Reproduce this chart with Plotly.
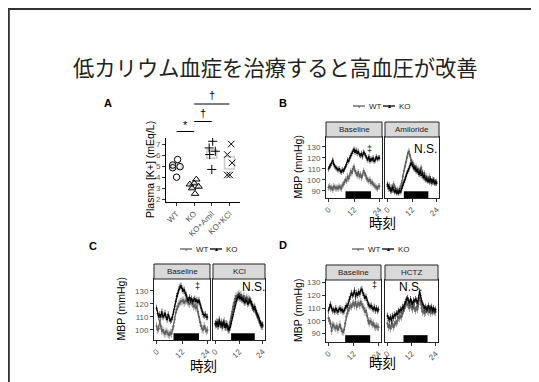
import plotly.graph_objects as go

W, H = 539, 382
OFF = 8  # page body margin offset

# ---------------- DATA ----------------
TITLE = "低カリウム血症を治療すると高血圧が改善"

A_GROUPS = ["WT", "KO", "KO+Amil", "KO+KCl"]
A_WT = [5.6, 5.1, 4.85, 4.95, 4.0]
A_KO = [3.35, 3.8, 3.0, 3.15, 2.5, 3.45]
A_AMIL = [6.65, 7.25, 6.35, 6.05, 4.7]
A_KCL = [7.0, 6.05, 5.3, 4.2, 4.2]
A_WT_JIT = [0.06, -0.22, -0.22, 0.2, 0.0]
A_KO_JIT = [-0.25, 0.12, -0.12, 0.25, 0.05, 0.0]
A_AMIL_JIT = [-0.15, 0.05, 0.2, -0.12, 0.0]
A_KCL_JIT = [0.1, -0.12, 0.15, -0.12, 0.02]
A_MEAN = [4.98, 3.2, 6.1, 5.3]
A_SEM = [0.25, 0.2, 0.38, 0.55]

HOURS = [0, 0.5, 1, 1.5, 2, 2.5, 3, 3.5, 4, 4.5, 5, 5.5, 6, 6.5, 7, 7.5,
         8, 8.5, 9, 9.5, 10, 10.5, 11, 11.5, 12, 12.5, 13, 13.5, 14, 14.5,
         15, 15.5, 16, 16.5, 17, 17.5, 18, 18.5, 19, 19.5, 20, 20.5, 21,
         21.5, 22, 22.5, 23, 23.5, 24]
DARK_START, DARK_END = 8, 20
X_TICKS = [0, 12, 24]

B_BASE_KO = [110, 112, 113, 115, 118, 114, 112, 111,
             110, 109, 110, 108, 107, 109, 108, 110,
             112, 114, 118, 117, 120, 122, 124, 126,
             128, 125, 127, 124, 126, 123, 122, 124,
             121, 125, 124, 122, 120, 118, 121, 117,
             119, 118, 120, 117, 118, 121, 119, 120, 120]
B_BASE_WT = [93, 94, 92, 93, 91, 94, 93, 92,
             93, 92, 94, 93, 92, 95, 96, 98,
             100, 99, 103, 101, 104, 108, 106, 110,
             112, 108, 106, 104, 107, 103, 105, 102,
             104, 108, 106, 104, 101, 100, 99, 100,
             97, 98, 96, 95, 94, 93, 92, 94, 94]
B_AMIL_KO = [96, 94, 92, 91, 90, 93, 91, 89,
             90, 88, 89, 88, 90, 89, 92, 95,
             98, 100, 103, 106, 108, 110, 113, 115,
             114, 112, 110, 111, 108, 109, 107, 105,
             108, 104, 106, 102, 104, 100, 101, 99,
             100, 98, 101, 99, 98, 100, 97, 98, 97]
B_AMIL_WT = [94, 92, 95, 90, 93, 91, 96, 93,
             92, 90, 91, 89, 92, 94, 97, 103,
             108, 112, 116, 120, 124, 126, 122, 118,
             116, 115, 113, 110, 112, 108, 110, 106,
             109, 111, 107, 104, 106, 102, 103, 101,
             100, 103, 99, 97, 100, 98, 99, 97, 98]

C_BASE_KO = [117, 113, 110, 112, 110, 114, 110, 111,
             113, 110, 108, 112, 109, 107, 108, 110,
             114, 118, 122, 126, 128, 131, 133, 134,
             132, 130, 131, 128, 127, 124, 123, 125,
             123, 124, 122, 123, 124, 122, 123, 121,
             123, 120, 117, 114, 112, 111, 112, 110, 110]
C_BASE_WT = [103, 100, 101, 107, 103, 99, 100, 98,
             97, 99, 98, 97, 96, 98, 97, 100,
             103, 108, 113, 116, 118, 120, 121, 122,
             122, 123, 121, 122, 123, 122, 121, 120,
             122, 121, 120, 118, 119, 117, 118, 114,
             110, 106, 103, 101, 100, 103, 101, 99, 100]
C_KCL_KO = [105, 104, 106, 103, 107, 104, 105, 103,
            106, 104, 102, 105, 103, 101, 100, 102,
            105, 109, 112, 116, 119, 122, 124, 125,
            126, 124, 125, 123, 124, 122, 121, 123,
            122, 120, 121, 123, 122, 120, 117, 116,
            118, 115, 113, 111, 110, 107, 105, 104, 104]
C_KCL_WT = [104, 106, 103, 105, 108, 104, 106, 102,
            104, 107, 103, 102, 104, 100, 103, 106,
            110, 114, 118, 121, 124, 126, 125, 127,
            128, 126, 127, 125, 124, 126, 123, 124,
            125, 122, 124, 123, 121, 119, 118, 117,
            116, 114, 112, 110, 108, 106, 104, 103, 103]

D_BASE_KO = [108, 111, 113, 110, 108, 109, 107, 110,
             108, 107, 109, 110, 108, 109, 107, 108,
             110, 112, 111, 114, 117, 119, 122, 120,
             121, 124, 119, 122, 120, 123, 121, 124,
             125, 122, 120, 118, 119, 116, 113, 112,
             111, 112, 110, 109, 111, 108, 110, 108, 109]
D_BASE_WT = [102, 100, 98, 92, 97, 96, 95, 94,
             96, 93, 95, 97, 94, 92, 91, 93,
             98, 103, 106, 108, 110, 112, 111, 113,
             114, 112, 115, 111, 113, 114, 112, 115,
             113, 111, 110, 107, 108, 104, 100, 98,
             100, 99, 97, 98, 96, 95, 96, 95, 95]
D_HCTZ_KO = [104, 102, 101, 103, 100, 104, 102, 105,
             104, 106, 105, 108, 107, 109, 108, 111,
             110, 113, 115, 117, 118, 116, 114, 117,
             115, 113, 116, 115, 117, 116, 114, 118,
             123, 120, 116, 113, 112, 110, 111, 109,
             110, 112, 109, 110, 111, 108, 110, 108, 109]
D_HCTZ_WT = [98, 95, 97, 94, 96, 98, 95, 97,
             99, 98, 100, 103, 102, 104, 103, 106,
             108, 110, 112, 114, 113, 112, 110, 113,
             111, 109, 112, 110, 108, 111, 109, 113,
             119, 115, 110, 107, 108, 106, 107, 109,
             108, 107, 109, 106, 108, 107, 108, 107, 107]

SE_KO = 2.5
SE_WT = 3

# ---------------- STYLE ----------------
FONT = "Liberation Sans"
JP = "Noto Sans CJK JP"
WT_COL = "#5f5f5f"
KO_COL = "#000000"
TICK_COL = "#555555"


def px(x):
    return (x - OFF) / W


def py(y):
    return 1 - (y - OFF) / H


def dx(a, b):
    return [px(a), px(b)]


def dy(top, bottom):
    return [py(bottom), py(top)]


fig = go.Figure()
shapes = []
annots = []
axes = {}


def note(x, y, text, size, color="black", family=None, angle=0, xanchor="center", xref="paper"):
    f = dict(size=size, color=color)
    if family:
        f["family"] = family
    annots.append(dict(x=x if xref != "paper" else px(x), y=py(y), xref=xref, yref="paper",
                       text=text, textangle=angle, showarrow=False, xanchor=xanchor,
                       yanchor="middle", font=f))


# ---------------- Panel A ----------------
marks = [(A_WT, A_WT_JIT, 1, "circle-open"), (A_KO, A_KO_JIT, 2, "triangle-up-open"),
         (A_AMIL, A_AMIL_JIT, 3, "cross-thin-open"), (A_KCL, A_KCL_JIT, 4, "x-thin-open")]
for i, (m, s) in enumerate(zip(A_MEAN, A_SEM)):
    shapes.append(dict(type="rect", xref="x", yref="y", x0=i + 1 - 0.28, x1=i + 1 + 0.28,
                       y0=m - s, y1=m + s, line=dict(color="#cccccc", width=1.5),
                       layer="below"))
for vals, jit, g, sym in marks:
    fig.add_trace(go.Scatter(x=[g + j for j in jit], y=vals, mode="markers", xaxis="x", yaxis="y",
                             marker=dict(symbol=sym, size=6.5, color="black",
                                         line=dict(width=1, color="black"))))
axes["xaxis"] = dict(domain=dx(166, 240), range=[0.4, 4.6], anchor="y",
                     tickmode="array", tickvals=[1, 2, 3, 4], ticktext=A_GROUPS, tickangle=-45,
                     showline=True, linecolor="black", linewidth=1, ticks="outside",
                     ticklen=3, tickcolor="#333", showgrid=False, zeroline=False,
                     tickfont=dict(size=8, color=TICK_COL, family=FONT))
axes["yaxis"] = dict(domain=dy(138, 202), range=[1.75, 7.55], anchor="x",
                     tickmode="array", tickvals=[2, 3, 4, 5, 6, 7], showline=True, linecolor="black",
                     linewidth=1, ticks="outside", ticklen=3, tickcolor="#333",
                     showgrid=False, zeroline=False,
                     tickfont=dict(size=8, color=TICK_COL, family=FONT))
note(150, 170, "Plasma [K+] (mEq/L)", 10.5, angle=-90)
note(108, 103, "<b>A</b>", 11)
for (g0, g1, ly, sym, ty) in [(1, 2, 131.5, "*", 125), (2, 3, 121.5, "†", 112.5), (2, 4, 104, "†", 95.5)]:
    shapes.append(dict(type="line", xref="x", yref="paper", x0=g0, x1=g1, y0=py(ly), y1=py(ly),
                       line=dict(color="black", width=1)))
    note((g0 + g1) / 2, ty, sym, 11, xref="x")


def line_panel(n1, n2, xl, xr1, xl2, xr, top, bottom, yr, yticks, strips,
               base, treat, lab, lab_xy, ytitle_x, xtitle_xy, dagger_xy, ns_xy, leg_xy):
    bar_top = yr[0] + 0.11 * (yr[1] - yr[0])
    for (n, (ko, wt)) in [(n1, base), (n2, treat)]:
        xa, ya = "x%d" % n, "y%d" % n
        shapes.append(dict(type="rect", xref=xa, yref=ya, x0=DARK_START, x1=DARK_END,
                           y0=yr[0], y1=bar_top, fillcolor="black", line=dict(width=0),
                           layer="below"))
        for vals, col, sym, se in [(wt, WT_COL, "circle", SE_WT), (ko, KO_COL, "triangle-up", SE_KO)]:
            fig.add_trace(go.Scatter(
                x=HOURS, y=vals, mode="lines+markers", xaxis=xa, yaxis=ya,
                line=dict(color=col, width=1.1), marker=dict(symbol=sym, size=2.2, color=col),
                error_y=dict(type="constant", value=se, color=col, thickness=0.6, width=0)))
    for n, (a, b) in [(n1, (xl, xr1)), (n2, (xl2, xr))]:
        axes["xaxis%d" % n] = dict(domain=dx(a, b), anchor="y%d" % n, range=[-1.2, 25.2],
                                   tickmode="array", tickvals=X_TICKS, tickangle=-45,
                                   showline=True, mirror=True, linecolor="#222", linewidth=1,
                                   ticks="outside", ticklen=3, tickcolor="#333", showgrid=False,
                                   zeroline=False, tickfont=dict(size=8, color=TICK_COL, family=FONT))
        axes["yaxis%d" % n] = dict(domain=dy(top, bottom), anchor="x%d" % n, range=yr,
                                   tickmode="array", tickvals=yticks, showline=True, mirror=True,
                                   linecolor="#222", linewidth=1, showgrid=False, zeroline=False,
                                   ticks="outside" if n == n1 else "", ticklen=3, tickcolor="#333",
                                   showticklabels=(n == n1),
                                   tickfont=dict(size=8, color=TICK_COL, family=FONT))
    for (a, b), txt in zip([(xl, xr1), (xl2, xr)], strips):
        shapes.append(dict(type="rect", xref="paper", yref="paper", x0=px(a), x1=px(b),
                           y0=py(top), y1=py(top - 15), fillcolor="#d9d9d9",
                           line=dict(color="#222", width=1)))
        note((a + b) / 2, top - 7.5, txt, 8, color="#1a1a1a")
    note(lab_xy[0], lab_xy[1], "<b>%s</b>" % lab, 11)
    note(ytitle_x, (top + bottom) / 2, "MBP (mmHg)", 10.5, angle=-90)
    note(xtitle_xy[0], xtitle_xy[1], "時刻", 13.5, family=JP)
    note(dagger_xy[0], dagger_xy[1], "‡", 9)
    note(ns_xy[0], ns_xy[1], "N.S.", 12)
    lx, ly = leg_xy
    for off, col, txt, glyph, gs in [(0, WT_COL, "WT", "●", 4), (30, KO_COL, "KO", "▲", 5)]:
        shapes.append(dict(type="line", xref="paper", yref="paper", x0=px(lx + off),
                           x1=px(lx + off + 12), y0=py(ly), y1=py(ly),
                           line=dict(color=col, width=1.3)))
        note(lx + off + 6, ly, glyph, gs, color=col)
        note(lx + off + 14, ly, txt, 8, color="#222", xanchor="left")


line_panel(2, 3, 326, 382, 385, 439, 137, 198, [83.4, 139], [90, 100, 110, 120, 130],
           ["Baseline", "Amiloride"], (B_BASE_KO, B_BASE_WT), (B_AMIL_KO, B_AMIL_WT),
           "B", (283, 103), 298, (382, 222), (369, 149), (425, 149), (353, 106))
line_panel(4, 5, 154, 210, 213, 265, 279, 340, [92.3, 139.2], [100, 110, 120, 130],
           ["Baseline", "KCl"], (C_BASE_KO, C_BASE_WT), (C_KCL_KO, C_KCL_WT),
           "C", (93, 246), 120, (203, 365), (197, 286), (253, 287), (180, 249))
line_panel(6, 7, 326, 381, 385, 438, 280, 342, [83.4, 132.1], [90, 100, 110, 120, 130],
           ["Baseline", "HCTZ"], (D_BASE_KO, D_BASE_WT), (D_HCTZ_KO, D_HCTZ_WT),
           "D", (283, 245), 298, (382, 362), (374, 285), (410, 287), (352, 249))

note(275, 67, TITLE, 21.3, color="#222", family=JP)
# slide border (top and left edges)
shapes.append(dict(type="line", xref="paper", yref="paper", x0=0, x1=1.05, y0=py(9), y1=py(9),
                   line=dict(color="#333", width=2)))
shapes.append(dict(type="line", xref="paper", yref="paper", x0=0.0015, x1=0.0015, y0=py(8),
                   y1=-0.05, line=dict(color="#333", width=2)))

fig.update_layout(width=W, height=H, margin=dict(l=0, r=0, t=0, b=0, autoexpand=False),
                  paper_bgcolor="white", plot_bgcolor="white", showlegend=False,
                  font=dict(family=FONT, size=8, color="#222"),
                  shapes=shapes, annotations=annots, **axes)
fig.write_html("out.html")
